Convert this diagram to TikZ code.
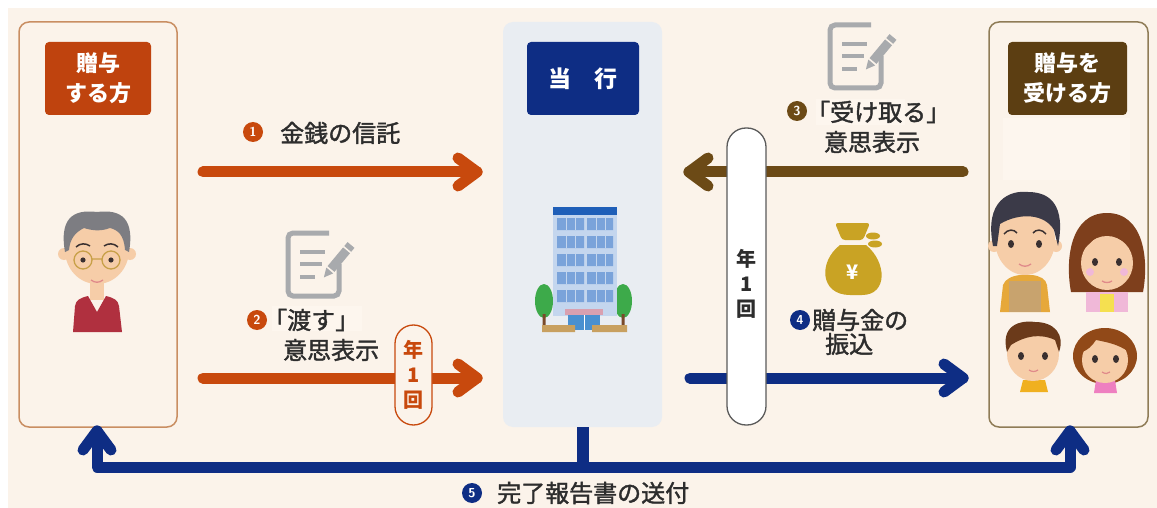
\documentclass[tikz,border=0pt]{standalone}
\usepackage{fontspec}
\newfontfamily\jp{Noto Sans CJK JP}
\newfontfamily\jpm[FakeBold=1.6]{Noto Sans CJK JP}
\usetikzlibrary{calc}

\definecolor{paper}{HTML}{FBF3EA}
\definecolor{soft}{HTML}{FDF6EE}
\definecolor{ink}{HTML}{2D2D2D}
\definecolor{flowor}{HTML}{C8490D}
\definecolor{flowbr}{HTML}{6C4A16}
\definecolor{flownv}{HTML}{0E2D84}
\definecolor{giverlab}{HTML}{BF430E}
\definecolor{takerlab}{HTML}{5C3E12}
\definecolor{giverline}{HTML}{C98E62}
\definecolor{takerline}{HTML}{8F7C57}
\definecolor{column}{HTML}{E9EDF2}
\definecolor{pillline}{HTML}{5A5A5A}
\definecolor{iconc}{HTML}{A8AAAD}
\definecolor{gold}{HTML}{C9A324}
\definecolor{skin}{HTML}{F6CDA8}
\definecolor{greyhair}{HTML}{7D7D82}
\definecolor{darkhair}{HTML}{3B3A48}
\definecolor{brownhair}{HTML}{7E3F1C}
\definecolor{kidhair}{HTML}{6B3A1A}
\definecolor{sweater}{HTML}{B0303F}
\definecolor{glassrim}{HTML}{C8A048}
\definecolor{eyec}{HTML}{3A3030}
\definecolor{lip}{HTML}{E08A8A}
\definecolor{tan}{HTML}{C8A36E}
\definecolor{mustard}{HTML}{E6A83A}
\definecolor{pinkc}{HTML}{F0B8D8}
\definecolor{hotpink}{HTML}{EE7FC0}
\definecolor{lemon}{HTML}{F5E050}
\definecolor{kidyellow}{HTML}{F0B020}
\definecolor{bldg}{HTML}{C4D6EE}
\definecolor{bldgtop}{HTML}{1F5FB8}
\definecolor{window}{HTML}{7AA3DA}
\definecolor{door}{HTML}{4A90D0}
\definecolor{awning}{HTML}{D9A0B0}
\definecolor{planter}{HTML}{C8A060}
\definecolor{leaf}{HTML}{3DAA4A}
\definecolor{trunk}{HTML}{7A4A2A}

% rounded chevron head: tip coordinate, rotation, colour
\newcommand\chevron[3]{\draw[flowline,#3,shift={(#1)},rotate=#2] (-19,-14) -- (0,0) -- (-19,14);}
% numbered disc: name, centre, colour, digit
\newcommand\numdisc[4]{\fill[#3] (#2) circle (10pt); \node[numtxt] (#1) at (#2) {#4};}

\tikzset{
  flowline/.style={line width=11pt, line cap=round, line join=round},
  frame/.style={draw=#1, line width=1.5pt, rounded corners=10pt, minimum width=158pt, minimum height=405pt, inner sep=0pt},
  labelbox/.style={fill=#1, rounded corners=4pt, minimum height=73pt, text=white, align=center, inner sep=0pt,
    font=\jp\bfseries\fontsize{22}{30}\selectfont},
  txt/.style={text=ink, inner sep=0pt, font=\jpm\fontsize{24}{30}\selectfont},
  numtxt/.style={text=white, inner sep=0pt, font=\sffamily\bfseries\fontsize{13}{13}\selectfont},
  yearpill/.style={draw=#1, line width=1.3pt, minimum width=38pt, inner sep=0pt, align=center},
  pilltext/.style={text=#1, inner sep=0pt, align=center, font=\jp\bfseries\fontsize{20}{25}\selectfont},
  docicon/.pic={
    \draw[iconc, line width=5pt, rounded corners=5pt] (44,3) -- (3,3) -- (3,66) -- (54,66) -- (54,34);
    \draw[iconc, line width=4.5pt] (15,22) -- (40,22) (15,34) -- (37,34) (15,47) -- (30,47);
    \draw[iconc, line width=9pt] (66,15) -- (46,39);
    \draw[paper, line width=1.5pt] (65.9,22.8) -- (58.3,16.4);
    \fill[iconc] (48.2,43.4) -- (41.3,37.6) -- (38.9,47.4) -- cycle;
  }
}

\begin{document}
\begin{tikzpicture}[x=1pt,y=-1pt]
\useasboundingbox (0,0) rectangle (1157,508);
\fill[white] (0,0) rectangle (1157,508);
\fill[paper] (8,8) rectangle (1157,508);

% ---------- the three columns ----------
\node[frame=giverline] (giver) at (98,224.5) {};
\node[fill=column, rounded corners=10pt, minimum width=159pt, minimum height=405pt, inner sep=0pt] (bank) at (582.5,224.5) {};
\node[frame=takerline, minimum width=159pt] (taker) at (1068.5,224.5) {};
\fill[soft] (1003,118) rectangle (1130,180);

\node[labelbox=giverlab, minimum width=106pt] (giverlab) at (98,78.5) {贈与\\する方};
\node[labelbox=flownv, minimum width=112pt, font=\jp\bfseries\fontsize{23}{30}\selectfont] (banklab) at (583,78.5) {当　行};
\node[labelbox=takerlab, minimum width=119pt] (takerlab) at (1067.5,78.5) {贈与を\\受ける方};

% ---------- grandfather ----------
\fill[skin] (64,254) circle (6pt) (130,254) circle (6pt);
\fill[skin] (90,276) rectangle (104,300);
\fill[sweater] (73,332) -- (75,306) .. controls (76,300) and (80,298) .. (88,296) -- (97,312) -- (106,296)
  .. controls (114,298) and (118,300) .. (119,306) -- (122,332) -- cycle;
\fill[skin] (97,250) ellipse (32pt and 34pt);
\fill[greyhair] (65,252) .. controls (58,212) and (80,210) .. (97,212) .. controls (114,210) and (136,212) .. (129,252)
  -- (125,250) .. controls (124,235) and (118,230) .. (110,228) .. controls (100,232) and (90,230) .. (84,228)
  .. controls (76,232) and (70,238) .. (69,250) -- cycle;
\draw[eyec, line width=1.5pt] (76,247) .. controls (80,243) and (86,243) .. (90,246)
  (104,246) .. controls (108,243) and (114,243) .. (118,247);
\fill[eyec] (83,260) circle (2.6pt) (111,260) circle (2.6pt);
\draw[glassrim, line width=1.3pt] (83,260) circle (9pt) (111,260) circle (9pt) (92,259) -- (102,259);
\draw[lip, line width=1.3pt] (91,280) .. controls (95,283) and (99,283) .. (103,280);

% ---------- bank building ----------
\fill[leaf] (544,301) ellipse (9pt and 17pt) (623,301) ellipse (9pt and 17pt);
\fill[trunk] (542.5,314) rectangle (545.5,328) (621.5,314) rectangle (624.5,328);
\fill[bldg] (553,207) rectangle (617,316);
\fill[bldgtop] (553,207) rectangle (617,215);
\foreach \r in {218,236,254,272,290} {
  \fill[window] (557,\r) rectangle (584,\r+12) (587,\r) rectangle (613,\r+12);
  \draw[bldg, line width=0.6pt] (566,\r) -- (566,\r+12) (575,\r) -- (575,\r+12) (596,\r) -- (596,\r+12) (605,\r) -- (605,\r+12);
}
\fill[awning] (565,309) rectangle (603,315);
\fill[door] (568,315) rectangle (600,330);
\draw[white, line width=0.8pt] (584,315) -- (584,330);
\fill[planter] (542,325) rectangle (575,332) (592,325) rectangle (627,332);

% ---------- family ----------
% father
\fill[mustard] (1000,312) -- (1003,285) .. controls (1005,279) and (1012,276) .. (1020,275) -- (1032,275)
  .. controls (1040,276) and (1046,279) .. (1047,285) -- (1050,312) -- cycle;
\fill[tan] (1009,281) rectangle (1041,312);
\fill[skin] (994,246) circle (6pt) (1056,246) circle (6pt);
\fill[skin] (1025,240) ellipse (30pt and 35pt);
\fill[darkhair] (993,246) .. controls (984,200) and (1010,190) .. (1028,192) .. controls (1050,192) and (1066,205) .. (1058,246)
  -- (1054,230) .. controls (1045,214) and (1020,212) .. (1000,224) -- (997,246) -- cycle;
\draw[eyec, line width=1.5pt] (1004,234) .. controls (1008,229) and (1014,229) .. (1017,233)
  (1033,233) .. controls (1036,229) and (1042,229) .. (1046,234);
\fill[eyec] (1011,244) ellipse (3pt and 4pt) (1039,244) ellipse (3pt and 4pt);
\draw[lip, line width=1.3pt] (1019,264) .. controls (1023,267) and (1027,267) .. (1031,264);
% mother
\fill[brownhair] (1071,292) .. controls (1065,260) and (1070,213) .. (1107,213) .. controls (1144,213) and (1149,260) .. (1143,292) -- cycle;
\fill[pinkc] (1086,292) rectangle (1128,312);
\fill[lemon] (1100,294) rectangle (1114,312);
\fill[skin] (1107,263) ellipse (26pt and 27pt);
\fill[brownhair] (1080,252) .. controls (1080,226) and (1100,220) .. (1118,222) .. controls (1134,226) and (1138,240) .. (1135,252)
  .. controls (1126,240) and (1112,236) .. (1102,230) .. controls (1094,240) and (1087,246) .. (1080,252) -- cycle;
\fill[pinkc] (1090,272) circle (4pt) (1124,272) circle (4pt);
\fill[eyec] (1095,262) ellipse (3pt and 4pt) (1119,262) ellipse (3pt and 4pt);
\draw[lip, line width=1.3pt] (1102,281) .. controls (1105,283) and (1109,283) .. (1112,281);
% son
\fill[kidyellow] (1020,392) -- (1023,380) -- (1045,380) -- (1048,392) -- cycle;
\fill[skin] (1033,354) ellipse (26pt and 27pt);
\fill[kidhair] (1007,352) .. controls (1000,325) and (1020,320) .. (1035,322) .. controls (1055,322) and (1065,335) .. (1059,352)
  -- (1055,340) .. controls (1040,333) and (1025,336) .. (1011,345) -- cycle;
\fill[eyec] (1021,356) ellipse (3pt and 4pt) (1045,356) ellipse (3pt and 4pt);
\draw[lip, line width=1.2pt] (1029,370) .. controls (1032,372) and (1035,372) .. (1038,370);
% daughter
\fill[brownhair!85!orange] (1105,356) ellipse (32pt and 28pt);
\fill[hotpink] (1094,393) -- (1096,380) -- (1115,380) -- (1117,393) -- cycle;
\fill[skin] (1105,360) ellipse (23pt and 23pt);
\fill[brownhair!85!orange] (1082,352) .. controls (1084,336) and (1096,330) .. (1108,331) .. controls (1120,332) and (1128,340) .. (1129,352)
  .. controls (1118,344) and (1106,342) .. (1096,340) .. controls (1092,346) and (1088,350) .. (1082,352) -- cycle;
\fill[eyec] (1095,359) ellipse (3pt and 4pt) (1116,359) ellipse (3pt and 4pt);
\draw[lip, line width=1.2pt] (1102,372) .. controls (1105,374) and (1108,374) .. (1110,372);

% ---------- icons ----------
\pic at (285,230) {docicon};
\pic at (827,22) {docicon};
% money bag
\fill[gold] (840,245) .. controls (818,262) and (820,295) .. (850,295) -- (862,295)
  .. controls (888,295) and (887,262) .. (866,245) -- cycle;
\fill[gold, rounded corners=3pt] (835,223) -- (870,223) -- (863,240) -- (842,240) -- cycle;
\fill[gold] (873,236) ellipse (7pt and 3.5pt) (875,244) ellipse (7pt and 3.5pt);
\node[text=white, inner sep=0pt, font=\jp\bfseries\fontsize{20}{20}\selectfont] (yen) at (853,272) {¥};

% ---------- flows ----------
\coordinate (a1s) at (203,172);  \coordinate (a1e) at (477,172);
\coordinate (a2s) at (203,378);  \coordinate (a2e) at (477,378);
\coordinate (a3s) at (963,172);  \coordinate (a3e) at (689,172);
\coordinate (a4s) at (690,378);  \coordinate (a4e) at (963,378);
\coordinate (a5m) at (582.5,467);
\coordinate (a5l) at (97,431);   \coordinate (a5r) at (1070,431);

\draw[flowline, flowor] (a1s) -- (a1e);  \chevron{a1e}{0}{flowor}
\draw[flowline, flowor] (a2s) -- (a2e);  \chevron{a2e}{0}{flowor}
\draw[flowline, flowbr] (a3s) -- (a3e);  \chevron{a3e}{180}{flowbr}
\draw[flowline, flownv] (a4s) -- (a4e);  \chevron{a4e}{0}{flownv}
\draw[flownv, line width=12pt] (bank.south) -- (a5m);
\draw[flowline, flownv] (a5l) -- (a5l |- a5m) -- (a5r |- a5m) -- (a5r);
\chevron{a5l}{90}{flownv}
\chevron{a5r}{90}{flownv}

% ---------- once-a-year pills ----------
\node[yearpill=pillline, fill=white, rounded corners=19pt, minimum width=39pt, minimum height=297pt] (yearbig) at (746.5,276.5) {};
\node[pilltext=ink] (yearbigtxt) at (746.5,284) {年\\1\\回};
\node[yearpill=flowor, fill=paper, rounded corners=18.5pt, minimum width=37pt, minimum height=100pt, pilltext=flowor] (yearsmall) at (413.5,375) {年\\1\\回};

% ---------- labels ----------
\numdisc{n1}{253,132}{flowor}{1}
\node[txt, anchor=west] (t1) at (280,133) {金銭の信託};

\fill[soft] (272,306) rectangle (362,331);
\numdisc{n2}{257,320}{flowor}{2}
\node[txt, anchor=west] (t2a) at (263,320) {「渡す」};
\node[txt, anchor=west] (t2b) at (283,350) {意思表示};

\fill[soft] (816,99) rectangle (905,125);
\numdisc{n3}{797,111}{flowbr}{3}
\node[txt, anchor=west] (t3a) at (806,112) {「受け取る」};
\node[txt] (t3b) at (872,142) {意思表示};

\numdisc{n4}{800,320}{flownv}{4}
\node[txt, anchor=west] (t4a) at (812,320) {贈与金の};
\node[txt, anchor=west] (t4b) at (825,344) {振込};

\numdisc{n5}{472,493}{flownv}{5}
\node[txt, anchor=west] (t5) at (497,493) {完了報告書の送付};
\end{tikzpicture}
\end{document}
